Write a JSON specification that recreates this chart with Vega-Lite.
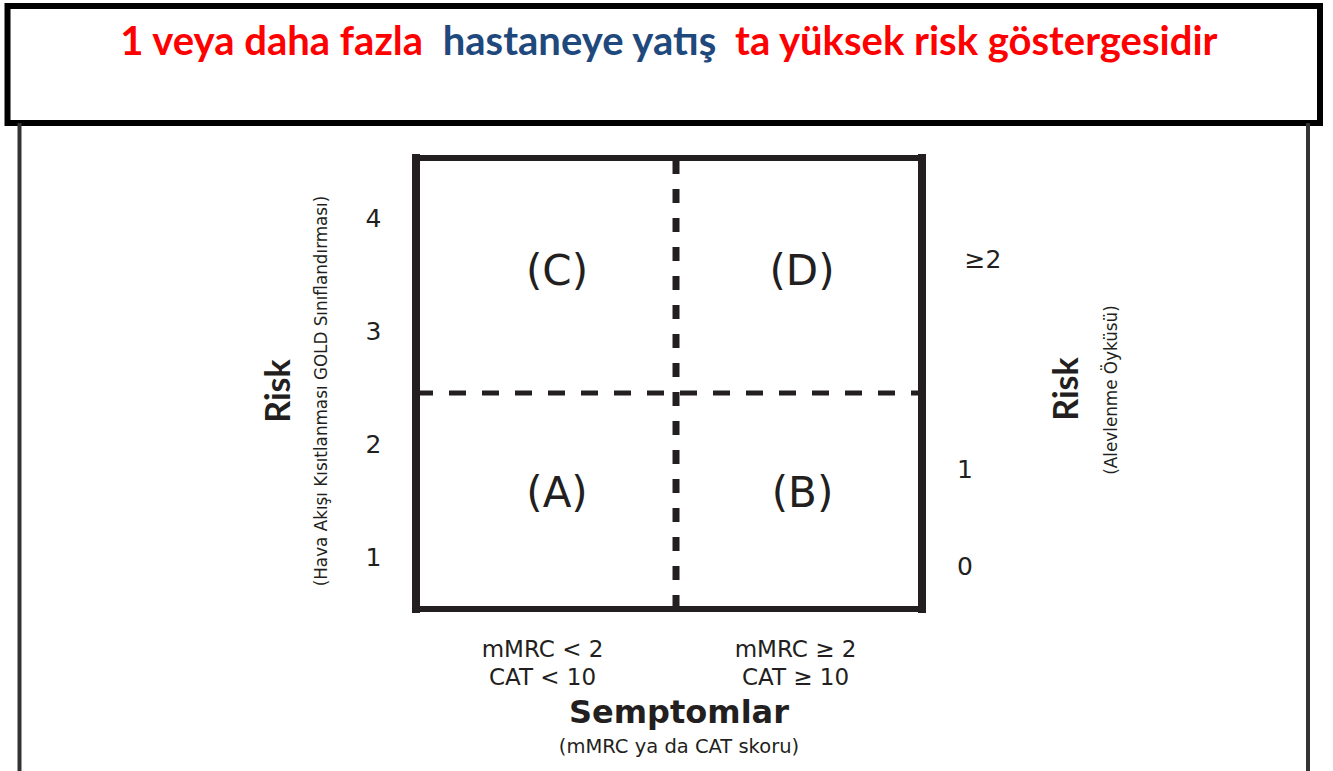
{
  "$schema": "https://vega.github.io/schema/vega-lite/v6.json",
  "width": 506,
  "height": 451,
  "autosize": {"type": "none"},
  "padding": {"left": 416, "top": 158, "right": 411, "bottom": 162},
  "background": "white",
  "config": {"view": {"stroke": null}, "text": {"font": "DejaVu Sans", "color": "#231f20"}},
  "datasets": {
    "frame": [{"x": -1.6146, "x2": 3.5731, "y": 5.888, "y2": 4.85}],
    "sides": [{"x": -1.5672, "y": 4.85, "y2": -0.9}, {"x": 3.5257, "y": 4.85, "y2": -0.9}],
    "boxV": [{"x": 0, "y": 0.54, "y2": 4.54}, {"x": 2, "y": 0.54, "y2": 4.54}],
    "boxH": [{"x": 0, "x2": 2, "y": 0.54}, {"x": 0, "x2": 2, "y": 4.54}],
    "dashV": [{"x": 1.0277, "y": 0.54, "y2": 4.54}],
    "dashH": [{"x": 0, "x2": 2, "y": 2.456}],
    "quadrants": [
      {"label": "(C)", "x": 0.5573, "y": 3.4136},
      {"label": "(D)", "x": 1.5257, "y": 3.4136},
      {"label": "(A)", "x": 0.5573, "y": 1.449},
      {"label": "(B)", "x": 1.5277, "y": 1.449}
    ],
    "exacerbations": [
      {"label": "≥2", "x": 2.241, "y": 3.5644},
      {"label": "1", "x": 2.17, "y": 1.702},
      {"label": "0", "x": 2.17, "y": 0.842}
    ],
    "symptomCut": [
      {"label": "mMRC < 2", "x": 0.5, "y": 0.1143},
      {"label": "CAT < 10", "x": 0.5, "y": -0.134},
      {"label": "mMRC ≥ 2", "x": 1.5, "y": 0.1143},
      {"label": "CAT ≥ 10", "x": 1.5, "y": -0.134}
    ],
    "xTitle": [{"label": "Semptomlar", "x": 1.0395, "y": -0.471}],
    "xSub": [{"label": "(mMRC ya da CAT skoru)", "x": 1.0395, "y": -0.737}],
    "leftTitle": [{"label": "Risk", "x": -0.5375, "y": 2.4735}],
    "leftSub": [{"label": "(Hava Akışı Kısıtlanması GOLD Sınıflandırması)", "x": -0.3715, "y": 2.4735}],
    "rightTitle": [{"label": "Risk", "x": 2.5771, "y": 2.491}],
    "rightSub": [{"label": "(Alevlenme Öyküsü)", "x": 2.751, "y": 2.4824}],
    "head1": [{"label": "1 veya daha fazla", "part": "vurgu", "x": 0.0277, "y": 5.4535}],
    "head2": [{"label": "hastaneye yatış", "part": "konu", "x": 0.6462, "y": 5.4535}],
    "head3": [{"label": "ta yüksek risk göstergesidir", "part": "vurgu", "x": 1.2609, "y": 5.4535}]
  },
  "encoding": {
    "x": {"field": "x", "type": "quantitative", "scale": {"domain": [0, 2], "nice": false, "zero": false}, "axis": null},
    "y": {
      "field": "y",
      "type": "quantitative",
      "scale": {"domain": [0.54, 4.54], "nice": false, "zero": false},
      "axis": {
        "values": [1, 2, 3, 4],
        "format": "d",
        "domain": false,
        "ticks": false,
        "grid": false,
        "title": null,
        "labelPadding": 35,
        "labelFontSize": 25,
        "labelFont": "DejaVu Sans",
        "labelColor": "#231f20"
      }
    }
  },
  "layer": [
    {"data": {"name": "frame"}, "mark": {"type": "rect", "filled": false, "color": "black", "strokeWidth": 6}, "encoding": {"x2": {"field": "x2"}, "y2": {"field": "y2"}}},
    {"data": {"name": "sides"}, "mark": {"type": "rule", "color": "#333333", "strokeWidth": 4}, "encoding": {"y2": {"field": "y2"}}},
    {"data": {"name": "boxV"}, "mark": {"type": "rule", "color": "#231f20", "strokeWidth": 8, "strokeCap": "square"}, "encoding": {"y2": {"field": "y2"}}},
    {"data": {"name": "boxH"}, "mark": {"type": "rule", "color": "#231f20", "strokeWidth": 6, "strokeCap": "square"}, "encoding": {"x2": {"field": "x2"}}},
    {"data": {"name": "dashV"}, "mark": {"type": "rule", "color": "#231f20", "strokeWidth": 7, "strokeDash": [14, 15]}, "encoding": {"y2": {"field": "y2"}}},
    {"data": {"name": "dashH"}, "mark": {"type": "rule", "color": "#231f20", "strokeWidth": 5, "strokeDash": [17, 16]}, "encoding": {"x2": {"field": "x2"}}},
    {"data": {"name": "quadrants"}, "mark": {"type": "text", "fontSize": 42, "align": "center", "baseline": "alphabetic"}, "encoding": {"text": {"field": "label"}}},
    {"data": {"name": "exacerbations"}, "mark": {"type": "text", "fontSize": 25, "align": "center", "baseline": "alphabetic"}, "encoding": {"text": {"field": "label"}}},
    {"data": {"name": "symptomCut"}, "mark": {"type": "text", "fontSize": 23, "align": "center", "baseline": "alphabetic"}, "encoding": {"text": {"field": "label"}}},
    {"data": {"name": "xTitle"}, "mark": {"type": "text", "fontSize": 32, "fontWeight": "bold", "align": "center", "baseline": "alphabetic"}, "encoding": {"text": {"field": "label"}}},
    {"data": {"name": "xSub"}, "mark": {"type": "text", "fontSize": 19.5, "align": "center", "baseline": "alphabetic"}, "encoding": {"text": {"field": "label"}}},
    {"data": {"name": "leftTitle"}, "mark": {"type": "text", "font": "Lato", "fontSize": 34, "fontWeight": "bold", "align": "center", "baseline": "middle", "angle": 270}, "encoding": {"text": {"field": "label"}}},
    {"data": {"name": "leftSub"}, "mark": {"type": "text", "fontSize": 16.8, "align": "center", "baseline": "middle", "angle": 270}, "encoding": {"text": {"field": "label"}}},
    {"data": {"name": "rightTitle"}, "mark": {"type": "text", "font": "Lato", "fontSize": 34, "fontWeight": "bold", "align": "center", "baseline": "middle", "angle": 270}, "encoding": {"text": {"field": "label"}}},
    {"data": {"name": "rightSub"}, "mark": {"type": "text", "fontSize": 16.8, "align": "center", "baseline": "middle", "angle": 270}, "encoding": {"text": {"field": "label"}}},
    {"data": {"name": "head1"}, "mark": {"type": "text", "font": "Lato", "fontSize": 40, "fontWeight": "bold", "align": "right", "baseline": "alphabetic"}, "encoding": {"text": {"field": "label"}, "color": {"field": "part", "type": "nominal", "scale": {"domain": ["vurgu", "konu"], "range": ["#ff0000", "#1f497d"]}, "legend": null}}},
    {"data": {"name": "head2"}, "mark": {"type": "text", "font": "Lato", "fontSize": 40, "fontWeight": "bold", "align": "center", "baseline": "alphabetic"}, "encoding": {"text": {"field": "label"}, "color": {"field": "part", "type": "nominal", "scale": {"domain": ["vurgu", "konu"], "range": ["#ff0000", "#1f497d"]}, "legend": null}}},
    {"data": {"name": "head3"}, "mark": {"type": "text", "font": "Lato", "fontSize": 40, "fontWeight": "bold", "align": "left", "baseline": "alphabetic"}, "encoding": {"text": {"field": "label"}, "color": {"field": "part", "type": "nominal", "scale": {"domain": ["vurgu", "konu"], "range": ["#ff0000", "#1f497d"]}, "legend": null}}}
  ]
}
